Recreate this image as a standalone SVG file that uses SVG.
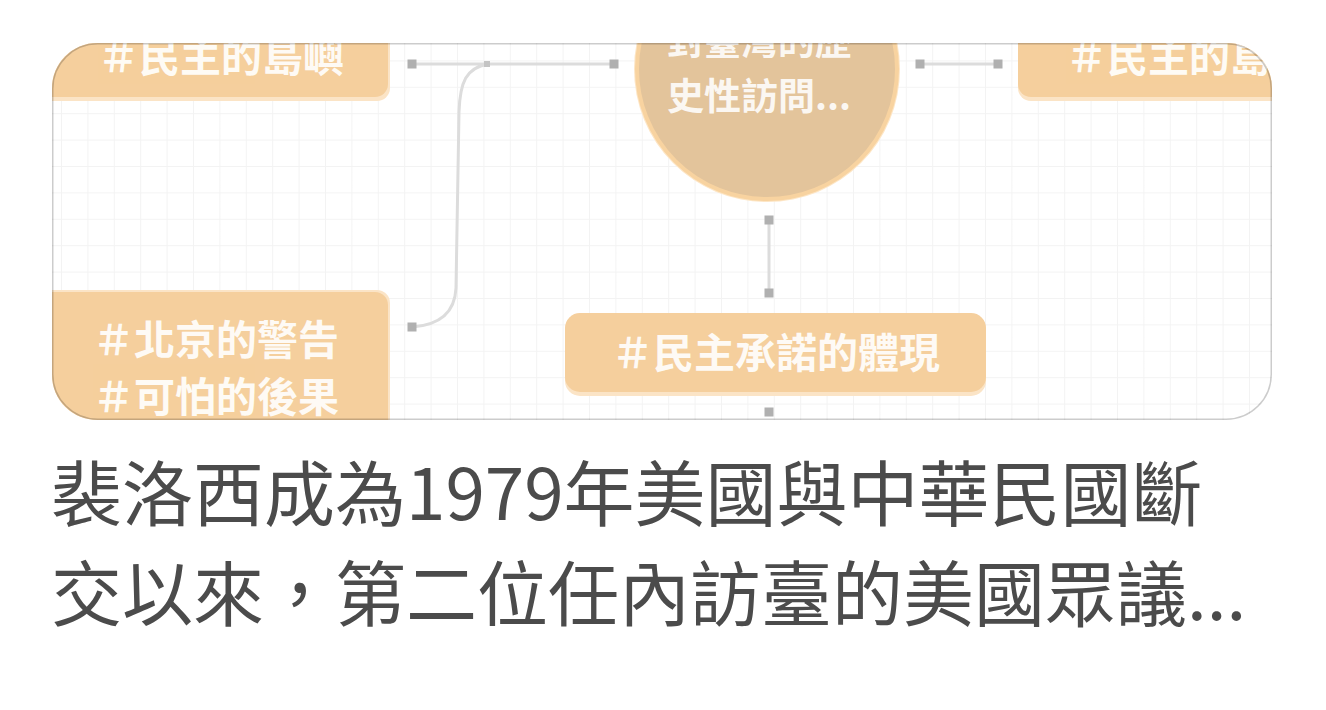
<svg xmlns="http://www.w3.org/2000/svg" width="1326" height="710" viewBox="0 0 1326 710">
  <defs>
    <clipPath id="card">
      <rect x="52" y="43" width="1220" height="377" rx="45" ry="45"/>
    </clipPath>
    <pattern id="grid" x="61" y="34" width="26.4" height="26.4" patternUnits="userSpaceOnUse">
      <path d="M0.5 0 V26.4 M0 0.5 H26.4" fill="none" stroke="#f3f3f3" stroke-width="1"/>
    </pattern>
    <style>
      .node { fill: #f5cf9d; }
      .shadow { fill: #fbe4c6; }
      .ntext { font-family: "Noto Sans CJK TC", "Noto Sans CJK SC", sans-serif; font-size: 41px; fill: #ffffff; font-weight: 700; opacity: 0.9; }
      .ctext { font-family: "Noto Sans CJK TC", "Noto Sans CJK SC", sans-serif; font-size: 37px; fill: #ffffff; font-weight: 700; opacity: 0.88; }
      .edge { fill: none; stroke: #dcdcdc; stroke-width: 3; }
      .dot { fill: #b0b0b0; }
      .caption { font-family: "Noto Sans CJK TC", "Noto Sans CJK SC", sans-serif; font-size: 71px; fill: #4b4b4b; }
    </style>
  </defs>

  <rect x="0" y="0" width="1326" height="710" fill="#ffffff"/>

  <g clip-path="url(#card)">
    <rect x="52" y="43" width="1220" height="377" fill="#ffffff"/>
    <rect x="52" y="43" width="1220" height="377" fill="url(#grid)"/>

    <g id="connectors">
      <path class="edge" d="M412 64 H614"/>
      <path class="edge" d="M488 64 C466 68 460 82 459 112 L456 288 C455 310 442 325 412 327"/>
      <path class="edge" d="M920 64 H998"/>
      <path class="edge" d="M769 220 V293"/>
      <rect class="dot" x="407.5" y="59.5" width="9" height="9"/>
      <rect class="dot" x="609.5" y="59.5" width="9" height="9"/>
      <rect class="dot" x="915.5" y="59.5" width="9" height="9"/>
      <rect class="dot" x="993.5" y="59.5" width="9" height="9"/>
      <rect class="dot" x="764.5" y="215.5" width="9" height="9"/>
      <rect class="dot" x="764.5" y="288.5" width="9" height="9"/>
      <rect class="dot" x="764.5" y="407.5" width="9" height="9"/>
      <rect class="dot" x="407.5" y="322.5" width="9" height="9"/>
      <rect x="484" y="61" width="6" height="6" fill="#c4c4c4"/>
    </g>

    <g id="node-top-left">
      <rect class="shadow" x="40" y="20" width="350" height="81" rx="13"/>
      <rect class="node" x="40" y="18" width="348" height="79" rx="13"/>
      <text class="ntext" x="221" y="72" text-anchor="middle">＃民主的島嶼</text>
    </g>

    <g id="node-center">
      <circle cx="767" cy="69" r="133" fill="#fde6c6"/>
      <circle cx="767" cy="69" r="130" fill="#e3c49b" stroke="#f8d3a0" stroke-width="4"/>
      <text class="ctext" x="667" y="55">對臺灣的歷</text>
      <text class="ctext" x="667" y="110">史性訪問...</text>
    </g>

    <g id="node-top-right">
      <rect class="shadow" x="1018" y="20" width="350" height="81" rx="13"/>
      <rect class="node" x="1018" y="18" width="348" height="79" rx="13"/>
      <text class="ntext" x="1189" y="72" text-anchor="middle">＃民主的島嶼</text>
    </g>

    <g id="node-bottom-left">
      <rect class="shadow" x="40" y="290" width="350" height="140" rx="13"/>
      <rect class="node" x="40" y="292" width="348" height="140" rx="13"/>
      <text class="ntext" x="216" y="355" text-anchor="middle">＃北京的警告</text>
      <text class="ntext" x="216" y="412" text-anchor="middle">＃可怕的後果</text>
    </g>

    <g id="node-bottom-center">
      <rect class="shadow" x="565" y="315" width="421" height="81" rx="15"/>
      <rect class="node" x="565" y="313" width="421" height="79" rx="15"/>
      <text class="ntext" x="776" y="368" text-anchor="middle">＃民主承諾的體現</text>
    </g>
  </g>

  <rect x="52.75" y="43.75" width="1218.5" height="375.5" rx="45" ry="45" fill="none" stroke="#000000" stroke-opacity="0.2" stroke-width="1.5"/>

  <g id="caption">
    <text class="caption" x="51" y="520">裴洛西成為1979年美國與中華民國斷</text>
    <text class="caption" x="51" y="620">交以來，第二位任內訪臺的美國眾議...</text>
  </g>
</svg>
